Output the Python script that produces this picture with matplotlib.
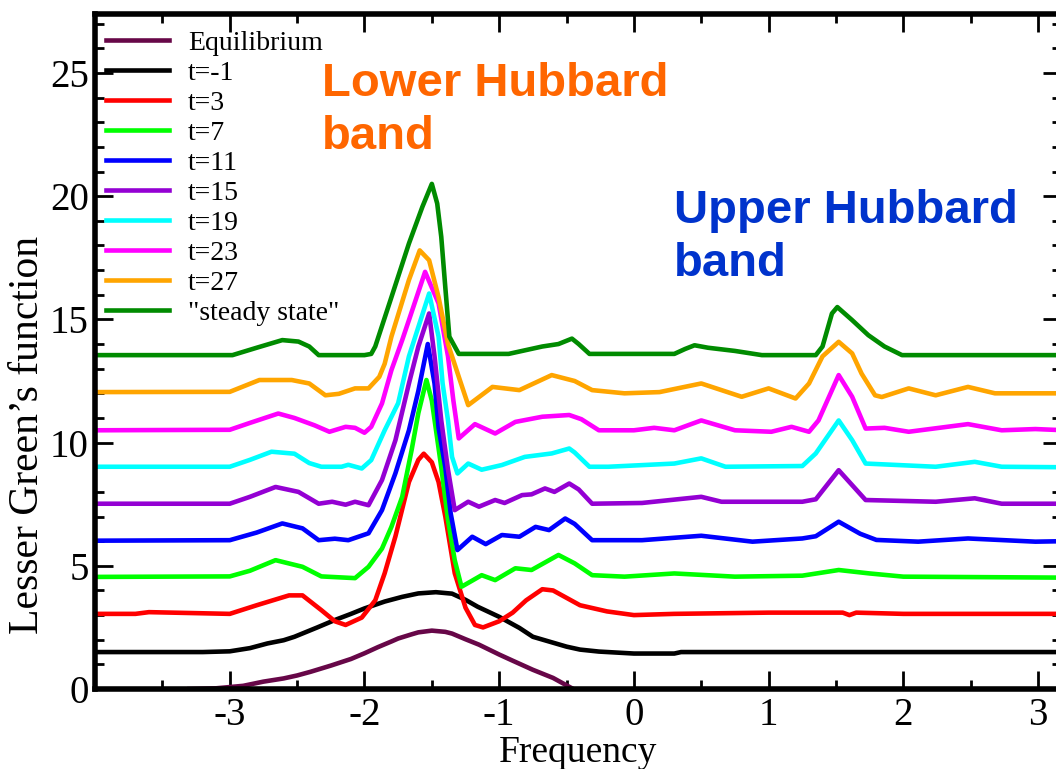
import matplotlib
matplotlib.use("Agg")
import matplotlib.pyplot as plt
from matplotlib.ticker import MultipleLocator

plt.rcParams["font.family"] = ["Liberation Serif", "DejaVu Serif"]
plt.rcParams["axes.unicode_minus"] = False

# Lesser Green's function vs frequency, each time slice shifted by 1.5
eq_x = [-3.3, -3.1, -3.0, -2.9, -2.75, -2.6, -2.5, -2.4, -2.25, -2.1, -2.0, -1.9, -1.8, -1.75, -1.65,
        -1.6, -1.5, -1.4, -1.35, -1.25, -1.15, -1.0, -0.9, -0.75, -0.6, -0.5, -0.45]
eq_y = [0.0, 0.03, 0.08, 0.13, 0.3, 0.43, 0.55, 0.7, 0.95, 1.22, 1.45, 1.7, 1.93, 2.05, 2.22,
        2.3, 2.37, 2.32, 2.25, 2.02, 1.8, 1.4, 1.15, 0.78, 0.45, 0.15, 0.0]

tm1_x = [-4, -3.2, -3.0, -2.85, -2.72, -2.6, -2.52, -2.35, -2.22, -2.1, -2.0, -1.85, -1.72, -1.6, -1.47,
         -1.35, -1.25, -1.16, -1.0, -0.85, -0.75, -0.6, -0.5, -0.4, -0.26, 0.0, 0.3, 0.35, 3.2]
tm1_y = [1.5, 1.5, 1.53, 1.66, 1.85, 1.98, 2.12, 2.5, 2.8, 3.05, 3.27, 3.55, 3.74, 3.88, 3.93,
         3.87, 3.62, 3.34, 2.93, 2.48, 2.12, 1.88, 1.72, 1.6, 1.52, 1.44, 1.44, 1.5, 1.5]

t3_x = [-4, -3.7, -3.6, -3.0, -2.8, -2.56, -2.46, -2.32, -2.22, -2.14, -2.02, -1.92, -1.85, -1.77, -1.67,
        -1.6, -1.56, -1.5, -1.45, -1.4, -1.33, -1.25, -1.18, -1.12, -1.0, -0.9, -0.8, -0.68, -0.6, -0.5,
        -0.4, -0.2, 0.0, 0.3, 1.0, 1.55, 1.6, 1.65, 2.0, 3.2]
t3_y = [3.05, 3.05, 3.12, 3.05, 3.4, 3.8, 3.8, 3.2, 2.75, 2.6, 2.9, 3.6, 4.7, 6.2, 8.4,
        9.3, 9.55, 9.2, 8.4, 7.0, 4.7, 3.3, 2.6, 2.5, 2.75, 3.1, 3.6, 4.05, 4.0, 3.7,
        3.4, 3.15, 3.0, 3.05, 3.1, 3.1, 3.0, 3.1, 3.05, 3.05]

t7_x = [-4, -3.0, -2.85, -2.66, -2.46, -2.32, -2.07, -1.97, -1.87, -1.8, -1.72, -1.65, -1.6, -1.54, -1.5,
        -1.43, -1.38, -1.33, -1.28, -1.2, -1.13, -1.03, -0.88, -0.76, -0.56, -0.44, -0.31, -0.07, 0.3,
        0.75, 1.25, 1.52, 1.75, 2.0, 3.2]
t7_y = [4.55, 4.57, 4.8, 5.23, 4.96, 4.57, 4.5, 4.96, 5.7, 6.58, 7.8, 9.7, 11.2, 12.54, 11.7,
        9.0, 6.86, 5.23, 4.15, 4.4, 4.62, 4.42, 4.9, 4.83, 5.44, 5.1, 4.62, 4.56, 4.69,
        4.56, 4.6, 4.83, 4.69, 4.56, 4.52]

t11_x = [-4, -3.0, -2.8, -2.61, -2.46, -2.34, -2.22, -2.12, -1.97, -1.87, -1.77, -1.67, -1.6, -1.53,
         -1.48, -1.45, -1.4, -1.36, -1.31, -1.2, -1.1, -0.98, -0.85, -0.73, -0.63, -0.51, -0.44, -0.31,
         0.06, 0.5, 0.88, 1.25, 1.35, 1.52, 1.68, 1.8, 2.11, 2.48, 2.98, 3.2]
t11_y = [6.02, 6.04, 6.35, 6.72, 6.52, 6.04, 6.1, 6.04, 6.32, 7.26, 8.76, 10.5, 12.1, 14.0,
         12.4, 10.6, 9.0, 7.13, 5.64, 6.18, 5.88, 6.25, 6.18, 6.58, 6.45, 6.92, 6.7, 6.04,
         6.04, 6.22, 5.98, 6.11, 6.2, 6.79, 6.3, 6.05, 5.98, 6.11, 5.98, 6.0]

t15_x = [-4, -3.0, -2.85, -2.66, -2.49, -2.34, -2.24, -2.14, -2.07, -1.97, -1.87, -1.77, -1.67, -1.6,
         -1.52, -1.48, -1.43, -1.38, -1.33, -1.23, -1.15, -1.03, -0.96, -0.83, -0.76, -0.66, -0.59,
         -0.48, -0.41, -0.31, 0.06, 0.5, 0.65, 1.25, 1.35, 1.52, 1.72, 2.24, 2.53, 2.73, 3.2]
t15_y = [7.52, 7.52, 7.8, 8.2, 8.0, 7.52, 7.6, 7.48, 7.6, 7.46, 8.48, 10.1, 12.4, 13.9,
         15.24, 13.5, 10.9, 8.9, 7.26, 7.6, 7.4, 7.67, 7.55, 7.87, 7.9, 8.14, 8.0,
         8.34, 8.1, 7.52, 7.55, 7.8, 7.6, 7.6, 7.7, 8.88, 7.67, 7.6, 7.74, 7.52, 7.52]

t19_x = [-4, -3.0, -2.85, -2.69, -2.52, -2.41, -2.32, -2.17, -2.12, -2.02, -1.95, -1.85, -1.75, -1.67,
         -1.52, -1.45, -1.42, -1.38, -1.35, -1.31, -1.23, -1.13, -0.98, -0.81, -0.61, -0.48, -0.44,
         -0.33, -0.19, 0.3, 0.5, 0.68, 1.25, 1.35, 1.52, 1.62, 1.72, 2.24, 2.53, 2.73, 3.2]
t19_y = [9.02, 9.02, 9.3, 9.63, 9.55, 9.17, 9.02, 9.02, 9.1, 8.95, 9.29, 10.5, 11.6, 13.5,
         16.05, 14.3, 12.4, 10.9, 9.42, 8.75, 9.15, 8.9, 9.09, 9.42, 9.56, 9.76, 9.6,
         9.02, 9.02, 9.15, 9.36, 9.02, 9.05, 9.56, 10.9, 10.1, 9.15, 9.02, 9.22, 9.02, 9.0]

t23_x = [-4, -3.0, -2.85, -2.64, -2.52, -2.37, -2.26, -2.14, -2.07, -2.0, -1.95, -1.87, -1.8, -1.72,
         -1.67, -1.55, -1.45, -1.38, -1.34, -1.3, -1.18, -1.03, -0.88, -0.68, -0.48, -0.39, -0.26,
         0.0, 0.15, 0.3, 0.5, 0.75, 1.02, 1.17, 1.3, 1.37, 1.52, 1.62, 1.72, 1.86, 2.04, 2.48,
         2.73, 2.98, 3.2]
t23_y = [10.5, 10.52, 10.8, 11.18, 11.0, 10.7, 10.44, 10.64, 10.6, 10.4, 10.64, 11.59, 12.94, 14.16,
         14.97, 16.93, 15.65, 13.5, 11.7, 10.17, 10.75, 10.37, 10.84, 11.05, 11.12, 10.95, 10.5,
         10.5, 10.6, 10.5, 10.9, 10.5, 10.44, 10.64, 10.44, 10.9, 12.74, 11.86, 10.57, 10.6, 10.44, 10.75,
         10.5, 10.55, 10.5]

t27_x = [-4, -3.0, -2.78, -2.54, -2.41, -2.29, -2.19, -2.07, -1.97, -1.89, -1.85, -1.8, -1.67, -1.59,
         -1.52, -1.45, -1.38, -1.3, -1.23, -1.05, -0.85, -0.61, -0.44, -0.31, -0.07, 0.19, 0.5, 0.8,
         1.0, 1.2, 1.3, 1.4, 1.52, 1.62, 1.69, 1.79, 1.84, 2.04, 2.24, 2.48, 2.68, 3.2]
t27_y = [12.05, 12.06, 12.54, 12.54, 12.4, 11.92, 11.98, 12.2, 12.2, 12.67, 13.2, 14.3, 16.6, 17.8,
         17.4, 15.9, 14.0, 12.67, 11.52, 12.26, 12.13, 12.74, 12.5, 12.13, 12.0, 12.05, 12.4, 11.86,
         12.2, 11.79, 12.4, 13.5, 14.09, 13.62, 12.8, 11.92, 11.85, 12.2, 11.92, 12.26, 12.0, 12.0]

ss_x = [-4, -2.98, -2.8, -2.61, -2.49, -2.41, -2.34, -2.0, -1.95, -1.92, -1.8, -1.67, -1.57, -1.5,
        -1.46, -1.43, -1.4, -1.37, -1.3, -0.93, -0.68, -0.56, -0.46, -0.41, -0.33, 0.3, 0.38, 0.45,
        0.55, 0.75, 0.95, 1.35, 1.4, 1.47, 1.51, 1.62, 1.74, 1.86, 1.99, 3.2]
ss_y = [13.55, 13.55, 13.85, 14.16, 14.1, 13.9, 13.55, 13.55, 13.6, 13.9, 15.9, 18.08, 19.57, 20.5,
        19.7, 18.35, 16.3, 14.3, 13.6, 13.6, 13.9, 14.0, 14.22, 14.0, 13.6, 13.6, 13.8, 13.95,
        13.85, 13.72, 13.55, 13.55, 13.9, 15.24, 15.5, 14.97, 14.36, 13.9, 13.55, 13.55]

series = [
    ("Equilibrium", eq_x, eq_y, "#670748"),
    ("t=-1", tm1_x, tm1_y, "#000000"),
    ("t=3", t3_x, t3_y, "#ff0000"),
    ("t=7", t7_x, t7_y, "#00ff00"),
    ("t=11", t11_x, t11_y, "#0000ff"),
    ("t=15", t15_x, t15_y, "#9400d3"),
    ("t=19", t19_x, t19_y, "#00ffff"),
    ("t=23", t23_x, t23_y, "#ff00ff"),
    ("t=27", t27_x, t27_y, "#ffa500"),
    ('"steady state"', ss_x, ss_y, "#008b00"),
]

fig = plt.figure(figsize=(10.56, 7.69), dpi=100)
ax = fig.add_axes([0.09, 0.104, 0.9147, 0.878])

for label, xs, ys, color in series:
    ax.plot(xs, ys, color=color, lw=3.3, label=label)

ax.set_xlim(-4, 3.17)
ax.set_ylim(0, 27.4)
ax.xaxis.set_major_locator(MultipleLocator(1))
ax.xaxis.set_minor_locator(MultipleLocator(0.5))
ax.yaxis.set_major_locator(MultipleLocator(5))
ax.yaxis.set_minor_locator(MultipleLocator(1))
ax.tick_params(which="both", direction="in", top=True, right=True, width=2)
ax.tick_params(which="major", length=13, labelsize=28)
ax.tick_params(axis="x", which="major", pad=6)
ax.tick_params(axis="y", which="major", pad=4.5)
ax.tick_params(which="minor", length=6.5)
ax.set_xticks([-3, -2, -1, 0, 1, 2, 3])
for sp in ax.spines.values():
    sp.set_linewidth(4)

ax.set_xlabel("Frequency", fontsize=27, labelpad=1)
ax.set_ylabel("Lesser Green\u2019s function", fontsize=30)
ax.yaxis.set_label_coords(-0.05, 0.376)

ax.legend(loc="upper left", bbox_to_anchor=(0.0113, 0.9756), frameon=False, fontsize=20,
          labelspacing=0.165, handlelength=2.27, handletextpad=0.68, borderpad=0, borderaxespad=0)

ax.text(-2.316, 25.45, "Lower Hubbard\nband", color="#ff6600", fontsize=34, fontweight="bold",
        family="Liberation Sans", va="top", ha="left", linespacing=1.28)
ax.text(0.297, 20.3, "Upper Hubbard\nband", color="#0033cc", fontsize=34, fontweight="bold",
        family="Liberation Sans", va="top", ha="left", linespacing=1.28)

fig.savefig("out.png", dpi=100)
